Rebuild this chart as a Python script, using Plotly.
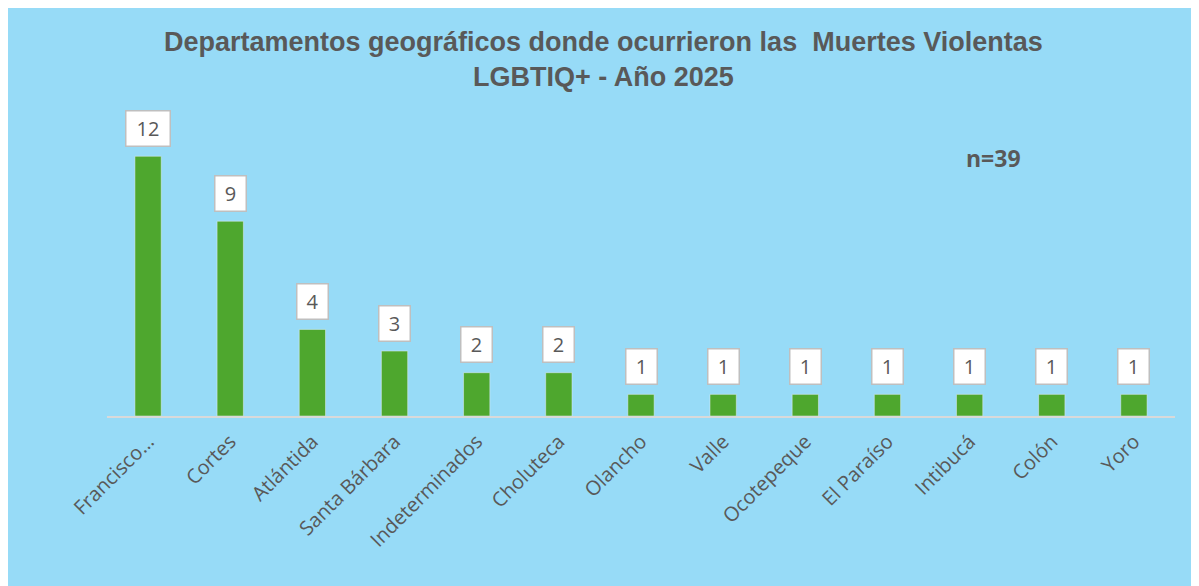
import plotly.graph_objects as go

departamentos = ["Francisco…", "Cortes", "Atlántida", "Santa Bárbara", "Indeterminados",
                 "Choluteca", "Olancho", "Valle", "Ocotepeque", "El Paraíso",
                 "Intibucá", "Colón", "Yoro"]
muertes = [12, 9, 4, 3, 2, 2, 1, 1, 1, 1, 1, 1, 1]
etiquetas = ["12", "9", "4", "3", "2", "2", "1", "1", "1", "1", "1", "1", "1"]

BG = "#97DBF7"
GRAY = "#595959"

fig = go.Figure()
fig.add_trace(go.Bar(x=departamentos, y=muertes, marker_color="#4EA72E",
                     width=0.32, hoverinfo="x+y"))

for d, v, t in zip(departamentos, muertes, etiquetas):
    fig.add_annotation(x=d, y=v, text=t, showarrow=False, yshift=28,
                       font=dict(family="Open Sans, Arial", size=20, color=GRAY),
                       bgcolor="white", bordercolor="#BFBFBF", borderwidth=1.5,
                       borderpad=5, width=20 + 13 * (len(t) - 1), height=24)

fig.add_annotation(xref="paper", yref="paper", x=0.83, y=0.816, xanchor="center",
                   yanchor="middle", text="<b>n=39</b>", showarrow=False,
                   font=dict(family="Open Sans, Arial", size=23, color=GRAY))

# title as annotation for precise placement
fig.add_annotation(xref="paper", yref="paper", x=0.465, y=1.127, xanchor="center",
                   yanchor="middle", showarrow=False,
                   text="<b>Departamentos geográficos donde ocurrieron las  Muertes Violentas<br>LGBTIQ+ - Año 2025</b>",
                   font=dict(family="Liberation Sans, Arial", size=27, color=GRAY))

fig.update_layout(
    width=1199, height=586,
    paper_bgcolor=BG, plot_bgcolor=BG,
    margin=dict(l=99, r=32, t=92, b=178),
    showlegend=False,
    xaxis=dict(tickangle=-45, tickfont=dict(family="Open Sans, Arial", size=20, color=GRAY),
               showline=True, linecolor="#D9D9D9", linewidth=2, showgrid=False,
               ticks="", ticklabelstandoff=4),
    yaxis=dict(range=[0, 14.6], visible=False, showgrid=False, zeroline=False),
    bargap=0.68,
)

fig.write_html("out.html")
